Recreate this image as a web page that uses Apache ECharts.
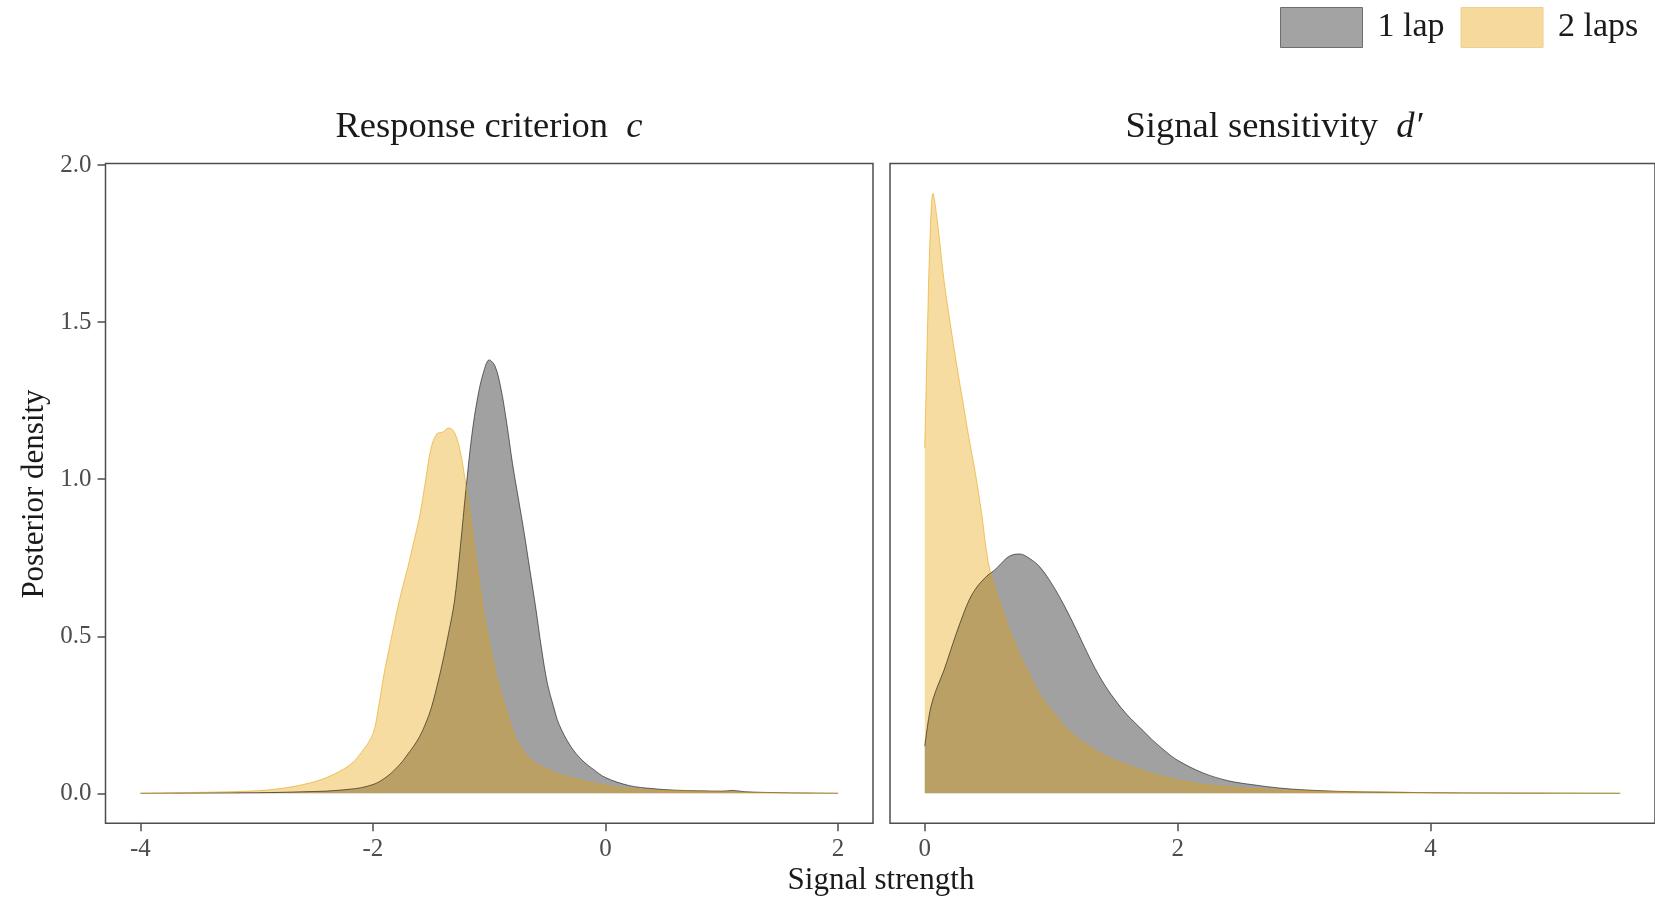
<!DOCTYPE html>
<html>
<head>
<meta charset="utf-8">
<title>Posterior density</title>
<script src="https://cdn.jsdelivr.net/npm/echarts@6/dist/echarts.min.js"></script>
<style>
  html, body { margin: 0; padding: 0; background: #fff; }
  #main { width: 1655px; height: 901px; }
</style>
</head>
<body>
<div id="main"></div>
<script>
// series names
var seriesNames = ['1 lap', '2 laps'];

// panel 1: response criterion c
var cX = [-4, -3.5, -3, -2.8, -2.6, -2.4, -2.2, -2.1, -2.0, -1.95, -1.9, -1.85, -1.8, -1.75, -1.7, -1.65, -1.6, -1.55, -1.5, -1.45,
  -1.4, -1.35, -1.3, -1.25, -1.2, -1.15, -1.1, -1.05, -1.0, -0.95, -0.9, -0.85, -0.8, -0.75, -0.7, -0.65, -0.6, -0.55, -0.5, -0.45,
  -0.4, -0.3, -0.2, -0.1, 0, 0.2, 0.4, 0.6, 0.8, 1.0, 1.1, 1.2, 1.5, 2.0];
var cLap1 = [0, 0.001, 0.002, 0.003, 0.005, 0.007, 0.013, 0.018, 0.028, 0.036, 0.048, 0.062, 0.08, 0.1, 0.125, 0.15, 0.18, 0.22, 0.27, 0.34,
  0.42, 0.51, 0.61, 0.78, 0.97, 1.14, 1.26, 1.34, 1.38, 1.36, 1.29, 1.18, 1.05, 0.94, 0.83, 0.71, 0.59, 0.46, 0.35, 0.28,
  0.22, 0.15, 0.105, 0.075, 0.05, 0.025, 0.015, 0.01, 0.008, 0.007, 0.009, 0.005, 0.002, 0];
var cLap2 = [0, 0.003, 0.008, 0.015, 0.028, 0.05, 0.09, 0.13, 0.19, 0.28, 0.39, 0.48, 0.57, 0.65, 0.72, 0.8, 0.88, 0.99, 1.1, 1.145,
  1.15, 1.163, 1.15, 1.09, 0.98, 0.85, 0.71, 0.58, 0.48, 0.39, 0.32, 0.26, 0.2, 0.16, 0.13, 0.11, 0.095, 0.085, 0.075, 0.068,
  0.06, 0.05, 0.04, 0.032, 0.025, 0.015, 0.01, 0.008, 0.006, 0.005, 0.004, 0.003, 0.002, 0];

// panel 2: signal sensitivity d'
var dX = [0, 0.02, 0.04, 0.065, 0.1, 0.15, 0.2, 0.25, 0.3, 0.35, 0.4, 0.45, 0.5, 0.55, 0.6, 0.65, 0.7, 0.75, 0.8, 0.9,
  1.0, 1.1, 1.2, 1.3, 1.4, 1.5, 1.6, 1.7, 1.8, 1.9, 2.0, 2.2, 2.4, 2.6, 2.8, 3.0, 3.3, 3.6, 4.0, 4.5, 5.0, 5.5];
var dLap1 = [0.15, 0.21, 0.26, 0.3, 0.34, 0.39, 0.45, 0.51, 0.565, 0.615, 0.65, 0.675, 0.695, 0.71, 0.73, 0.75, 0.76, 0.762, 0.755, 0.725,
  0.67, 0.6, 0.52, 0.435, 0.36, 0.3, 0.25, 0.21, 0.17, 0.135, 0.105, 0.065, 0.04, 0.027, 0.017, 0.011, 0.006, 0.004, 0.002, 0.001, 0.0005, 0];
var dLap2 = [1.1, 1.45, 1.75, 1.91, 1.82, 1.64, 1.5, 1.37, 1.25, 1.13, 1.02, 0.89, 0.74, 0.66, 0.6, 0.54, 0.49, 0.44, 0.4, 0.32,
  0.265, 0.215, 0.178, 0.15, 0.125, 0.105, 0.09, 0.075, 0.062, 0.051, 0.042, 0.028, 0.02, 0.015, 0.011, 0.008, 0.005, 0.004, 0.002, 0.001, 0.0005, 0];

// tick labels
var cTicks = [-4, -2, 0, 2];
var dTicks = [0, 2, 4];
var yTicks = [0, 0.5, 1, 1.5, 2];

var serif = '"Liberation Serif", "Times New Roman", serif';
var frame = '#4d4d4d';

function pairs(xs, ys) {
  var out = [];
  for (var i = 0; i < xs.length; i++) {
    out.push([xs[i], ys[i]]);
  }
  return out;
}

function xAxisFor(idx, lo, hi, ticks) {
  return {
    type: 'value', gridIndex: idx, min: lo, max: hi, position: 'bottom',
    axisLine: { show: false, onZero: false },
    splitLine: { show: false },
    axisTick: { show: true, customValues: ticks, length: 8, lineStyle: { color: frame, width: 1.5 } },
    axisLabel: { customValues: ticks, margin: 14, color: '#4d4d4d', fontFamily: serif, fontSize: 25 }
  };
}

function yAxisFor(idx, labels) {
  return {
    type: 'value', gridIndex: idx, min: -0.0955, max: 2.005, position: 'left',
    axisLine: { show: false, onZero: false },
    splitLine: { show: false },
    axisTick: { show: labels, customValues: yTicks, length: 8, lineStyle: { color: frame, width: 1.5 } },
    axisLabel: {
      show: labels, customValues: yTicks, margin: 14, color: '#4d4d4d', fontFamily: serif, fontSize: 25,
      formatter: function (v) { return v.toFixed(1); }
    }
  };
}

function density(name, idx, data, rgb) {
  return {
    name: name, type: 'line', xAxisIndex: idx, yAxisIndex: idx,
    data: data, smooth: 0.35,
    symbol: 'none', showSymbol: false,
    itemStyle: { color: 'rgb(' + rgb + ')' },
    lineStyle: { color: 'rgb(' + rgb + ')', opacity: 0.55, width: 1 },
    areaStyle: { color: 'rgb(' + rgb + ')', opacity: 0.37 },
    emphasis: { disabled: true }
  };
}

var chart = echarts.init(document.getElementById('main'), null, { renderer: 'canvas' });

var option = {
  animation: false,
  backgroundColor: '#fff',
  legend: {
    left: 1280, top: 7, padding: 0, itemGap: 16,
    itemWidth: 82, itemHeight: 40, icon: 'rect',
    textStyle: { fontFamily: serif, fontSize: 34, color: '#1a1a1a', padding: [14, 0, 0, 10] },
    data: [
      { name: seriesNames[0], itemStyle: { color: '#a3a3a3', borderColor: '#6e6e6e', borderWidth: 1 } },
      { name: seriesNames[1], itemStyle: { color: '#f5d99d', borderColor: '#efd08c', borderWidth: 1 } }
    ]
  },
  grid: [
    { left: 105.5, top: 163.6, width: 767.5, height: 659.7, show: true, borderColor: frame, borderWidth: 1.5, backgroundColor: 'transparent' },
    { left: 890, top: 163.6, width: 768, height: 659.7, show: true, borderColor: frame, borderWidth: 1.5, backgroundColor: 'transparent' }
  ],
  xAxis: [
    xAxisFor(0, -4.3, 2.3, cTicks),
    xAxisFor(1, -0.275, 5.775, dTicks)
  ],
  yAxis: [
    yAxisFor(0, true),
    yAxisFor(1, false)
  ],
  graphic: [
    {
      type: 'text',
      style: {
        x: 489, y: 127, align: 'center', verticalAlign: 'middle',
        text: '{n|Response criterion  }{i|c}',
        rich: {
          n: { fontFamily: serif, fontSize: 36.5, fill: '#1a1a1a' },
          i: { fontFamily: serif, fontSize: 36.5, fontStyle: 'italic', fill: '#1a1a1a' }
        }
      }
    },
    {
      type: 'text',
      style: {
        x: 1274, y: 127, align: 'center', verticalAlign: 'middle',
        text: '{n|Signal sensitivity  }{i|d\u2032}',
        rich: {
          n: { fontFamily: serif, fontSize: 36.5, fill: '#1a1a1a' },
          i: { fontFamily: serif, fontSize: 36.5, fontStyle: 'italic', fill: '#1a1a1a' }
        }
      }
    },
    {
      type: 'text',
      style: {
        x: 881, y: 881, align: 'center', verticalAlign: 'middle',
        text: 'Signal strength', fontFamily: serif, fontSize: 31, fill: '#1a1a1a'
      }
    },
    {
      type: 'text', x: 35, y: 494, rotation: Math.PI / 2,
      style: {
        x: 0, y: 0, align: 'center', verticalAlign: 'middle',
        text: 'Posterior density', fontFamily: serif, fontSize: 31, fill: '#1a1a1a'
      }
    }
  ],
  series: [
    density(seriesNames[0], 0, pairs(cX, cLap1), '0,0,0'),
    density(seriesNames[1], 0, pairs(cX, cLap2), '230,159,0'),
    density(seriesNames[0], 1, pairs(dX, dLap1), '0,0,0'),
    density(seriesNames[1], 1, pairs(dX, dLap2), '230,159,0')
  ]
};

chart.setOption(option);
</script>
</body>
</html>
